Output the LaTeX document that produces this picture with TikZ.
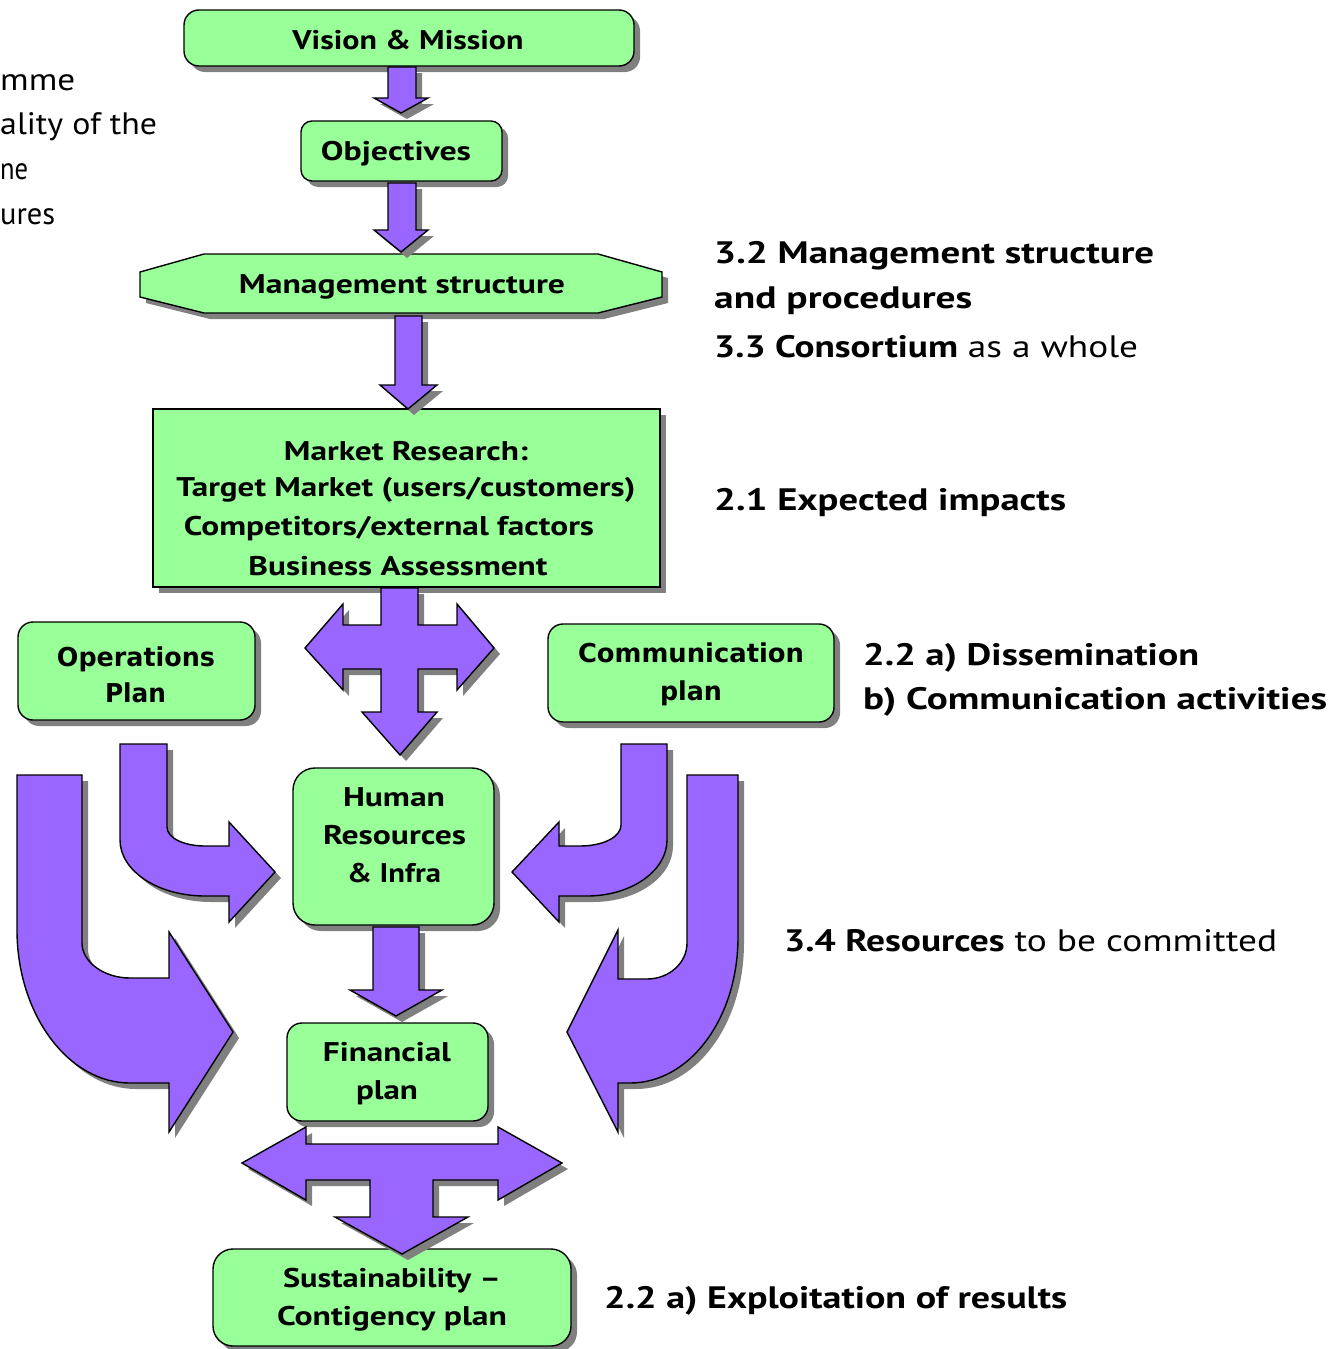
\documentclass[tikz,border=0pt]{standalone}
\usepackage{fontspec}
\setmainfont{PT Sans}
\newfontfamily\tahfont{DejaVu Sans}
\usetikzlibrary{shadows}
\definecolor{boxgreen}{HTML}{99FF99}
\definecolor{arrpurple}{HTML}{9966FF}
\newcommand\fw[2]{\resizebox{#1pt}{\height}{#2}}
\begin{document}
\begin{tikzpicture}[x=1pt,y=-1pt,
  shad/.style={drop shadow={shadow xshift=6pt,shadow yshift=-6pt,fill=black!50,opacity=1}},
  gbox/.style={draw=black,line width=1.4pt,fill=boxgreen,shad,rounded corners=#1,inner sep=0pt},
  gbox/.default=14pt,
  gsq/.style={draw=black,line width=1.4pt,fill=boxgreen,shad,sharp corners,inner sep=0pt},
  barrow/.style={draw=black,line width=1.4pt,fill=arrpurple,shad,line join=miter},
  lbl/.style={inner sep=0pt,text height=18.9pt,text depth=0pt,font=\fontsize{27}{30}\selectfont\bfseries},
  tlbl/.style={inner sep=0pt,text height=19pt,text depth=0pt,font=\tahfont\fontsize{26}{30}\selectfont\bfseries},
  side/.style={inner sep=0pt,text height=21.7pt,text depth=0pt,anchor=west,font=\fontsize{31}{34}\selectfont},
]
\useasboundingbox (0,0) rectangle (1334,1349);

% ---------- left cut-off text ----------
\node[side] (l1) at (0,80) {\fw{75}{mme}};
\node[side] (l2) at (0,124) {\fw{157}{ality of the}};
\node[side] (l3) at (0,169) {\fw{28}{ne}};
\node[side] (l4) at (0,214) {\fw{55}{ures}};

% ---------- boxes ----------
\node[gbox=15pt,minimum width=450pt,minimum height=56pt] (vision) at (409,38) {};
\node[gbox=11pt,minimum width=201pt,minimum height=60pt] (objectives) at (401.5,151) {};
\filldraw[draw=black,line width=1.4pt,fill=boxgreen,shad]
  (140,272) -- (204,254) -- (598,254) -- (662,272) -- (662,297) -- (598,313) -- (204,313) -- (140,297) -- cycle;
\node[gsq,minimum width=507pt,minimum height=178pt] (market) at (406.5,498) {};
\node[gbox=15pt,minimum width=237pt,minimum height=98pt] (operations) at (136.5,671) {};
\node[gbox=15pt,minimum width=286pt,minimum height=98pt] (communication) at (691,673) {};
\node[gbox=22pt,minimum width=201pt,minimum height=157pt] (hr) at (393.5,846.5) {};
\node[gbox=15pt,minimum width=201pt,minimum height=98pt] (financial) at (387.5,1072) {};
\node[gbox=20pt,minimum width=358pt,minimum height=97pt] (sustain) at (392,1297.5) {};

% ---------- box texts ----------
\node[lbl] (visiont) at (408,40) {\fw{231}{Vision \& Mission}};
\node[lbl] (objt) at (396,151) {\fw{150}{Objectives}};
\node[lbl] (mgmt) at (402,284) {\fw{326}{Management structure}};
\node[lbl] (mk1) at (406,451) {\fw{244}{Market Research:}};
\node[lbl] (mk2) at (406,487) {\fw{459}{Target Market (users/customers)}};
\node[lbl] (mk3) at (389,526) {\fw{410}{Competitors/external factors}};
\node[lbl] (mk4) at (398,566) {\fw{299}{Business Assessment}};
\node[tlbl] (op1) at (136,657) {\fw{158}{Operations}};
\node[tlbl] (op2) at (135.5,693) {\fw{61}{Plan}};
\node[tlbl] (cm1) at (691,653) {\fw{226}{Communication}};
\node[tlbl] (cm2) at (691,691) {\fw{62}{plan}};
\node[lbl] (hr1) at (394,797) {\fw{102}{Human}};
\node[lbl] (hr2) at (394.5,835) {\fw{143}{Resources}};
\node[lbl] (hr3) at (394,873) {\fw{94}{\& Infra}};
\node[lbl] (fi1) at (387,1052) {\fw{128}{Financial}};
\node[lbl] (fi2) at (387,1090) {\fw{62}{plan}};
\node[lbl] (su1) at (392,1278) {\fw{218}{Sustainability –}};
\node[lbl] (su2) at (392,1316) {\fw{230}{Contigency plan}};

% ---------- straight block arrows ----------
% vision -> objectives
\filldraw[barrow] (388,67) -- (416,67) -- (416,98) -- (428,98) -- (401,113) -- (374,98) -- (388,98) -- cycle;
% objectives -> management
\filldraw[barrow] (388,183) -- (416,183) -- (416,230) -- (428,230) -- (401,252) -- (374,230) -- (388,230) -- cycle;
% management -> market
\filldraw[barrow] (395,316) -- (422,316) -- (422,385) -- (437,385) -- (408,409) -- (380,385) -- (395,385) -- cycle;
% market -> three ways
\filldraw[barrow] (381,588) -- (418,588) -- (418,625) -- (457,625) -- (457,604) -- (494,648) -- (457,690) -- (457,669)
  -- (418,669) -- (418,712) -- (437,712) -- (400,755) -- (362,712) -- (381,712) -- (381,669) -- (343,669)
  -- (343,690) -- (305,648) -- (343,604) -- (343,625) -- (381,625) -- cycle;
% hr -> financial
\filldraw[barrow] (373,927) -- (419,927) -- (419,990) -- (442,990) -- (396,1016) -- (350,990) -- (373,990) -- cycle;
% financial -> three ways
\filldraw[barrow] (306,1144) -- (306,1127) -- (242,1163) -- (306,1200) -- (306,1180) -- (370,1180) -- (370,1217)
  -- (335,1217) -- (402,1254) -- (468,1217) -- (433,1217) -- (433,1180) -- (498,1180) -- (498,1200)
  -- (562,1163) -- (498,1127) -- (498,1144) -- cycle;

% ---------- curved block arrows ----------
% small left: operations -> hr
\filldraw[barrow] (120,744) -- (167,744) -- (167,827) .. controls (167,838) and (184,846) .. (205,846)
  -- (229,846) -- (229,822) -- (275,872) -- (229,922) -- (229,896) -- (205,896)
  .. controls (158,896) and (120,871) .. (120,840) -- cycle;
% big left
\filldraw[barrow] (17,775) -- (82,775) -- (82,943) .. controls (82,962) and (104,978) .. (130,978)
  -- (169,978) -- (169,932) -- (233,1032) -- (169,1132) -- (169,1083) -- (130,1083)
  .. controls (68,1083) and (17,1014) .. (17,930) -- cycle;
% small right: communication -> hr
\filldraw[barrow] (667,744) -- (621,744) -- (621,825) .. controls (621,837) and (603,846) .. (580,846)
  -- (559,846) -- (559,822) -- (512,872) -- (559,922) -- (559,896) -- (587,896)
  .. controls (631,896) and (667,871) .. (667,840) -- cycle;
% big right
\filldraw[barrow] (738,775) -- (687,775) -- (687,943) .. controls (687,963) and (669,979) .. (647,979)
  -- (618,979) -- (618,930) -- (567,1032) -- (618,1132) -- (618,1083) -- (630,1083)
  .. controls (690,1083) and (738,1018) .. (738,937) -- cycle;

% ---------- side texts ----------
\node[side] (s1) at (714,253) {\fw{440}{\bfseries 3.2 Management structure}};
\node[side] (s2) at (714,298) {\fw{258}{\bfseries and procedures}};
\node[side] (s3) at (714,347) {\fw{424}{\textbf{3.3 Consortium} as a whole}};
\node[side] (s4) at (714,500) {\fw{352}{\bfseries 2.1 Expected impacts}};
\node[side] (s5) at (863,655) {\fw{336}{\bfseries 2.2 a) Dissemination}};
\node[side] (s6) at (863,699) {\fw{464}{\bfseries b) Communication activities}};
\node[side] (s7) at (784,941) {\fw{493}{\textbf{3.4 Resources} to be committed}};
\node[side] (s8) at (604,1298) {\fw{463}{\bfseries 2.2 a) Exploitation of results}};
\end{tikzpicture}
\end{document}
